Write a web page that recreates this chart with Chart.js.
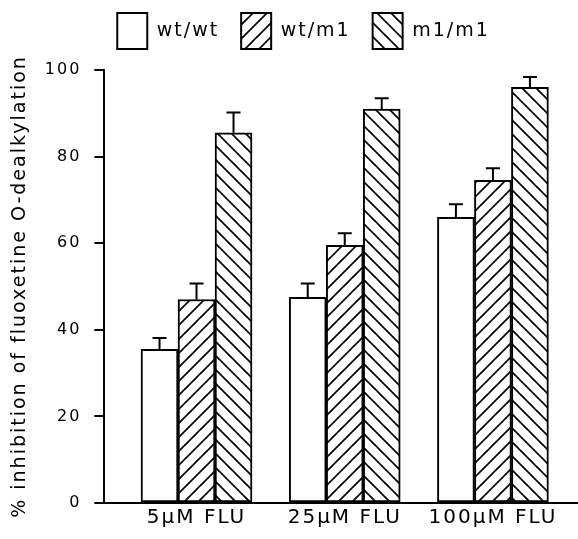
<!DOCTYPE html>
<html>
<head>
<meta charset="utf-8">
<script src="https://cdn.jsdelivr.net/npm/chart.js@4.4.1/dist/chart.umd.min.js"></script>
<style>
  html, body { margin: 0; padding: 0; background: #fff; }
  #wrap { width: 578px; height: 539px; }
</style>
</head>
<body>
<div id="wrap"><canvas id="chart" width="578" height="539"></canvas></div>
<script>
'use strict';

// ****************************************
//                DATA
// ****************************************
const doses = ['5μM FLU', '25μM FLU', '100μM FLU'];
const genotypes = ['wt/wt', 'wt/m1', 'm1/m1'];
const wtWt = [35.5, 47.5, 66];
const wtM1 = [47, 59.5, 74.5];
const m1M1 = [85.5, 91, 96];
const wtWtErr = [2.6, 3.2, 3];
const wtM1Err = [3.7, 2.8, 2.8];
const m1M1Err = [4.7, 2.5, 2.4];
const yTicks = [0, 20, 40, 60, 80, 100];

// ****************************************
//            HELPER FUNCTIONS
// ****************************************

// hatch fill, '/' or '\'
function hatch(dir) {
  const s = 14;
  const c = document.createElement('canvas');
  c.width = s;
  c.height = s;
  const g = c.getContext('2d');
  g.fillStyle = '#fff';
  g.fillRect(0, 0, s, s);
  g.strokeStyle = '#000';
  g.lineWidth = 1.7;
  g.beginPath();
  if (dir === '/') {
    g.moveTo(0, s); g.lineTo(s, 0);
    g.moveTo(-2, 2); g.lineTo(2, -2);
    g.moveTo(s - 2, s + 2); g.lineTo(s + 2, s - 2);
  } else {
    g.moveTo(0, 0); g.lineTo(s, s);
    g.moveTo(-2, s - 2); g.lineTo(2, s + 2);
    g.moveTo(s - 2, -2); g.lineTo(s + 2, 2);
  }
  g.stroke();
  return g.createPattern(c, 'repeat');
}

function points(vals) {
  return vals.map((v, i) => ({ x: i + 1, y: v }));
}

// wide typewriter-ish spacing like the print
const spacing = {
  id: 'spacing',
  beforeUpdate(chart) { chart.ctx.letterSpacing = '2px'; },
  beforeDraw(chart) { chart.ctx.letterSpacing = '2px'; }
};

// more room under the legend, and nudge it right
const legendGap = {
  id: 'legendGap',
  beforeLayout(chart) {
    const lg = chart.legend;
    if (lg && !lg._gapPatched) {
      const fit = lg.fit.bind(lg);
      lg.fit = function () {
        fit();
        this.height += 11;
      };
      lg._gapPatched = true;
    }
  },
  afterLayout(chart) {
    chart.legend.left += 12;
    chart.legend.right += 12;
  }
};

// upward-only error bars
const errorBars = {
  id: 'errorBars',
  afterDatasetsDraw(chart) {
    const ctx = chart.ctx;
    const yScale = chart.scales.y;
    ctx.save();
    ctx.strokeStyle = '#000';
    ctx.lineWidth = 2;
    chart.data.datasets.forEach((ds, i) => {
      chart.getDatasetMeta(i).data.forEach((bar, j) => {
        const top = yScale.getPixelForValue(ds.data[j].y + ds.errors[j]);
        ctx.beginPath();
        ctx.moveTo(bar.x, bar.y);
        ctx.lineTo(bar.x, top);
        ctx.moveTo(bar.x - 7, top);
        ctx.lineTo(bar.x + 7, top);
        ctx.stroke();
      });
    });
    ctx.restore();
  }
};

// ****************************************
//              CHART RENDERING
// ****************************************
const black = '#000';
const font = 'DejaVu Sans, sans-serif';

const barBase = {
  borderColor: black,
  borderWidth: 2,
  borderSkipped: false,
  barThickness: 37
};

new Chart(document.getElementById('chart'), {
  type: 'bar',
  data: {
    datasets: [
      Object.assign({ label: genotypes[0], data: points(wtWt), errors: wtWtErr, backgroundColor: '#fff' }, barBase),
      Object.assign({ label: genotypes[1], data: points(wtM1), errors: wtM1Err, backgroundColor: hatch('/') }, barBase),
      Object.assign({ label: genotypes[2], data: points(m1M1), errors: m1M1Err, backgroundColor: hatch('\\') }, barBase)
    ]
  },
  options: {
    responsive: false,
    animation: false,
    layout: { padding: { left: 5, right: 0, top: -9, bottom: 6 } },
    plugins: {
      tooltip: { enabled: false },
      legend: {
        display: true,
        labels: {
          color: black,
          font: { family: font, size: 19 },
          boxWidth: 30,
          boxHeight: 36,
          padding: 22
        }
      }
    },
    scales: {
      x: {
        type: 'linear',
        offset: false,
        min: 0.378,
        max: 3.574,
        afterBuildTicks(scale) {
          scale.ticks = doses.map((d, i) => ({ value: i + 1 }));
        },
        ticks: {
          color: black,
          font: { family: font, size: 20 },
          padding: 3,
          maxRotation: 0,
          autoSkip: false,
          callback: (v) => doses[v - 1]
        },
        grid: { display: false, drawTicks: false, offset: false },
        border: { display: true, color: black, width: 2 }
      },
      y: {
        min: 0,
        max: 100,
        afterBuildTicks(scale) {
          scale.ticks = yTicks.map((v) => ({ value: v }));
        },
        ticks: {
          color: black,
          font: { family: font, size: 16 },
          padding: 13
        },
        grid: {
          drawOnChartArea: false,
          drawTicks: true,
          tickLength: 10,
          color: black,
          lineWidth: 2
        },
        border: { display: true, color: black, width: 2 },
        title: {
          display: true,
          text: '% inhibition of fluoxetine O-dealkylation',
          color: black,
          font: { family: font, size: 19 },
          padding: { top: 4, bottom: 0 }
        }
      }
    }
  },
  plugins: [spacing, legendGap, errorBars]
});
</script>
</body>
</html>
